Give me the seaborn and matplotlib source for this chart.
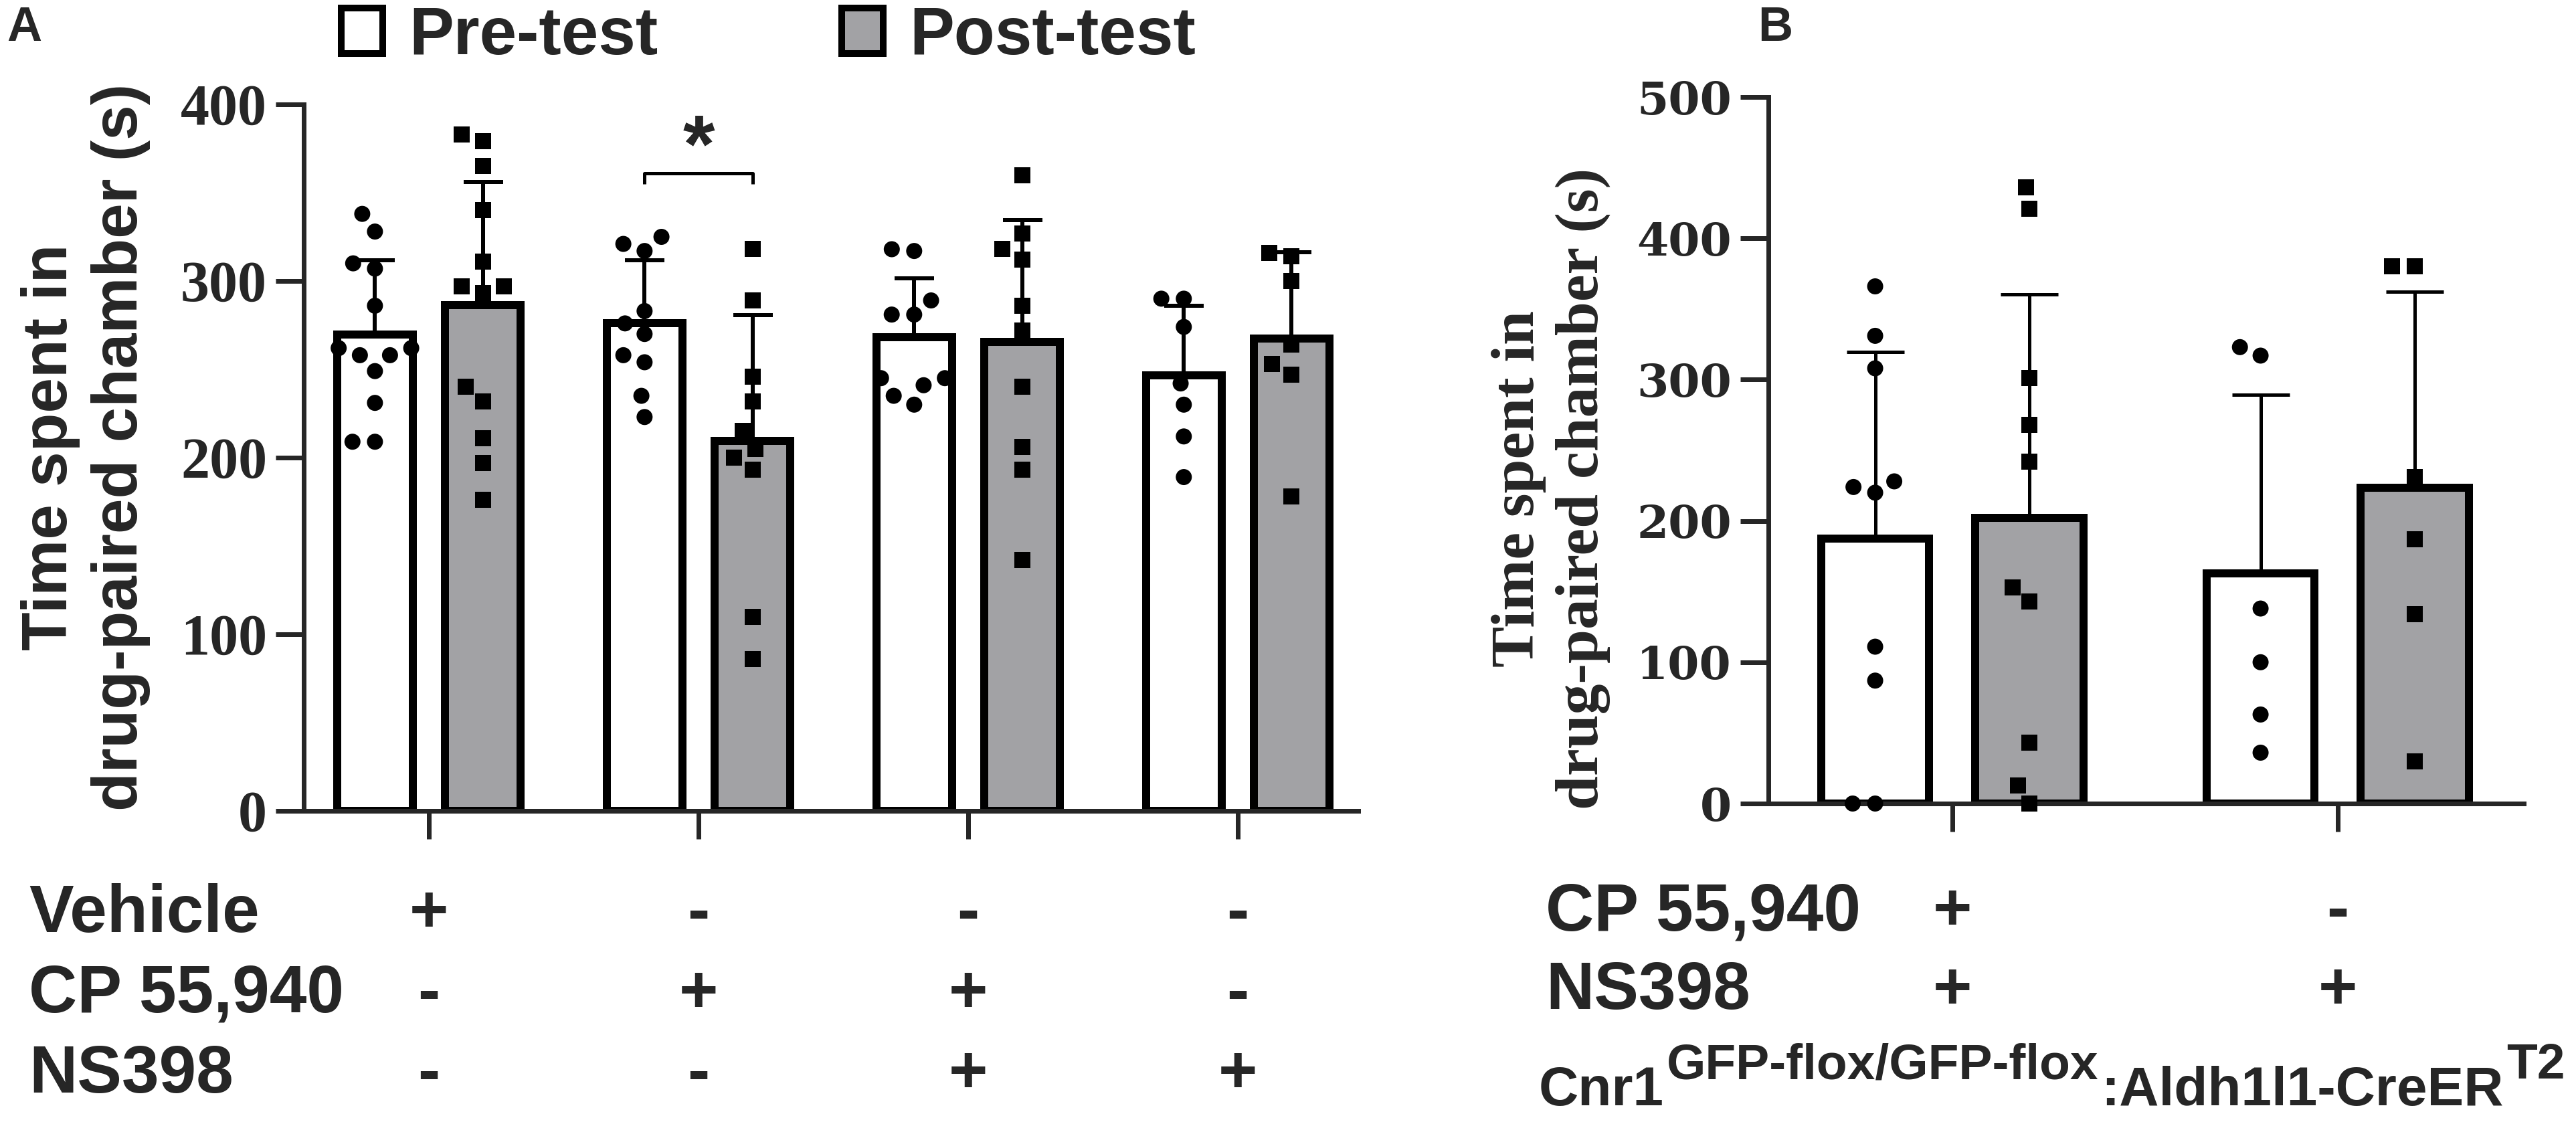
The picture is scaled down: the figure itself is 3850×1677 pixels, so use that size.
import numpy as np
import pandas as pd
import matplotlib
matplotlib.use("Agg")
import matplotlib.pyplot as plt
import seaborn as sns
from matplotlib.patches import Patch
from matplotlib import transforms

# ---------------- data (time in drug-paired chamber, s) ----------------
phases = ["Pre-test", "Post-test"]

# Panel A
groups_a = ["Vehicle", "CP 55,940", "CP 55,940 + NS398", "NS398"]
vehicle_pre = [338, 328, 310, 307, 286, 262, 262, 258, 258, 249, 231, 209, 209]
vehicle_post = [383, 379, 365, 340, 311, 297, 297, 293, 240, 232, 211, 197, 176]
cp_pre = [325, 321, 317, 283, 276, 270, 258, 254, 235, 223]
cp_post = [318, 289, 246, 232, 215, 205, 200, 193, 110, 86]
cpns_pre = [318, 317, 289, 281, 281, 245, 245, 241, 235, 230]
cpns_post = [360, 327, 318, 312, 286, 272, 240, 206, 193, 142]
ns_pre = [290, 290, 274, 242, 230, 212, 189]
ns_post = [316, 314, 300, 264, 253, 247, 178]

# Panel B (Cnr1 GFP-flox/GFP-flox : Aldh1l1-CreER T2 mice)
groups_b = ["CP 55,940 + NS398", "NS398"]
b_cpns_pre = [366, 331, 308, 228, 224, 220, 111, 87, 0, 0]
b_cpns_post = [436, 421, 301, 268, 242, 153, 143, 43, 13, 0]
b_ns_pre = [323, 317, 138, 100, 63, 36]
b_ns_post = [380, 380, 231, 187, 134, 30]

# treatment tables under the axes
rows_a = ["Vehicle", "CP 55,940", "NS398"]
signs_a = [["+", "-", "-", "-"], ["-", "+", "+", "-"], ["-", "-", "+", "+"]]
rows_b = ["CP 55,940", "NS398"]
signs_b = [["+", "-"], ["+", "+"]]

yticks_a = [0, 100, 200, 300, 400]
yticks_b = [0, 100, 200, 300, 400, 500]


def long_df(groups, pre_lists, post_lists):
    rows = []
    for g, pre, post in zip(groups, pre_lists, post_lists):
        rows += [(g, "Pre-test", v) for v in pre]
        rows += [(g, "Post-test", v) for v in post]
    return pd.DataFrame(rows, columns=["group", "phase", "time"])


df_a = long_df(groups_a, [vehicle_pre, cp_pre, cpns_pre, ns_pre],
               [vehicle_post, cp_post, cpns_post, ns_post])
df_b = long_df(groups_b, [b_cpns_pre, b_ns_pre], [b_cpns_post, b_ns_post])

# ---------------- style ----------------
sns.set_style("ticks")
plt.rcParams["font.family"] = ["Liberation Sans", "DejaVu Sans"]
plt.rcParams["font.weight"] = "bold"

W, H, DPI = 3850, 1677, 100
PT = 72 / DPI  # points per pixel
GREY = "#a2a2a5"
SANS = "Liberation Sans"
SERIF = "Liberation Serif"


def fx(px):
    return px / W


def fy(py):
    return 1 - py / H


fig = plt.figure(figsize=(W / DPI, H / DPI), dpi=DPI)
fig.patch.set_facecolor("white")
axA = fig.add_axes([fx(454), fy(1212), (2030 - 454) / W, (1212 - 156) / H])
axB = fig.add_axes([fx(2643), fy(1201), (3772 - 2643) / W, (1201 - 145) / H])


def draw_panel(ax, df, groups, bar_lw, err_lw, cap_px, xlim, yticks,
               tick_font, tick_fs):
    sns.barplot(data=df, x="group", y="time", hue="phase", order=groups,
                hue_order=phases, palette={"Pre-test": "white", "Post-test": GREY},
                saturation=1, errorbar=None, width=0.8, gap=0.3,
                edgecolor="black", linewidth=bar_lw * PT, legend=False, ax=ax,
                zorder=2)
    stats = df.groupby(["phase", "group"])["time"].agg(["mean", "std"])
    centers = {}
    for container, ph in zip(ax.containers, phases):
        for bar in container:
            xc = bar.get_x() + bar.get_width() / 2
            g = groups[int(round(xc))]
            centers[(ph, g)] = xc
            sd = stats.loc[(ph, g), "std"]
            ax.errorbar(xc, bar.get_height(), yerr=[[0], [sd]], fmt="none",
                        ecolor="black", elinewidth=err_lw * PT,
                        capsize=cap_px / 2 * PT, capthick=err_lw * PT,
                        zorder=3, clip_on=False)
    for ph, mk in zip(phases, ["o", "s"]):
        sns.swarmplot(data=df[df["phase"] == ph], x="group", y="time",
                      hue="phase", order=groups, hue_order=phases,
                      palette={p: "black" for p in phases}, dodge=True,
                      marker=mk, size=24 * PT, linewidth=8 * PT,
                      edgecolor="none", legend=False, ax=ax, zorder=4,
                      clip_on=False)
    ax.set_xlim(*xlim)
    ax.set_ylim(yticks[0], yticks[-1])
    ax.set_xticks(range(len(groups)))
    ax.set_yticks(yticks)
    ax.set_yticklabels([str(t) for t in yticks], fontfamily=tick_font,
                       fontweight="bold", fontsize=tick_fs)
    ax.set_xlabel("")
    ax.set_ylabel("")
    sns.despine(ax=ax)
    for s in ("left", "bottom"):
        ax.spines[s].set_linewidth(7 * PT)
        ax.spines[s].set_capstyle("projecting")
    ax.tick_params(axis="x", length=42 * PT, width=7 * PT, labelbottom=False)
    ax.tick_params(axis="y", length=42 * PT, width=7 * PT, pad=13 * PT)
    ax.set_facecolor("none")
    return centers


cA = draw_panel(axA, df_a, groups_a, 12, 6, 59, (-0.464, 3.447), yticks_a,
                SERIF, 62)
cB = draw_panel(axB, df_b, groups_b, 12, 5, 86, (-0.477, 1.483), yticks_b,
                "DejaVu Serif", 49)

# significance bracket (CP 55,940 pre vs post)
x1, x2 = cA[("Pre-test", "CP 55,940")], cA[("Post-test", "CP 55,940")]
axA.plot([x1, x1, x2, x2], [355, 361, 361, 355], color="black",
         lw=5 * PT, clip_on=False, solid_capstyle="butt")
axA.text((x1 + x2) / 2, 362, "*", ha="center", va="baseline", fontsize=88,
         fontweight="bold", fontfamily=SANS)

# y-axis labels
fig.text(fx(128), fy(668), "Time spent in\ndrug-paired chamber (s)", rotation=90,
         ha="center", va="center", multialignment="center", fontsize=68,
         fontweight="bold", fontfamily=SANS, linespacing=1.22)
fig.text(fx(2318), fy(730), "Time spent in\ndrug-paired chamber (s)", rotation=90,
         ha="center", va="center", multialignment="center", fontsize=66,
         fontweight="bold", fontfamily=SERIF, linespacing=1.22)

# panel letters
fig.text(fx(10), fy(8), "A", ha="left", va="top", fontsize=52, fontweight="bold")
fig.text(fx(2627), fy(8), "B", ha="left", va="top", fontsize=52, fontweight="bold")

# legend
handles = [Patch(facecolor="white", edgecolor="black", linewidth=10 * PT),
           Patch(facecolor=GREY, edgecolor="black", linewidth=10 * PT)]
fig.legend(handles, phases, loc="center left", bbox_to_anchor=(fx(510), fy(55)),
           ncol=2, frameon=False, prop={"family": SANS, "weight": "bold", "size": 72},
           handlelength=0.62, handleheight=0.68, handletextpad=0.39,
           columnspacing=2.75, borderpad=0, borderaxespad=0)

# treatment tables
def table(ax, rows, signs, x_label_px, baselines_px):
    tr = transforms.blended_transform_factory(ax.transData, fig.transFigure)
    for name, sg, base in zip(rows, signs, baselines_px):
        fig.text(fx(x_label_px), fy(base), name, ha="left", va="baseline",
                 fontsize=72, fontweight="bold", fontfamily=SANS)
        for i, s in enumerate(sg):
            ax.text(i, fy(base), s, transform=tr, ha="center", va="baseline",
                    fontsize=72, fontweight="bold", fontfamily=SANS)


table(axA, rows_a, signs_a, 43, [1393, 1513, 1633])
table(axB, rows_b, signs_b, 2310, [1390, 1508])

# genotype label with superscripts
renderer = fig.canvas.get_renderer()
pieces = [("Cnr1", 59, 0), ("GFP-flox/GFP-flox", 54, 40),
          (":Aldh1l1-CreER", 59, 0), ("T2", 54, 40)]
xpos = 2300
for txt, size, rise in pieces:
    t = fig.text(fx(xpos), fy(1652 - rise), txt, ha="left", va="baseline",
                 fontsize=size, fontweight="bold", fontfamily=SANS)
    bb = t.get_window_extent(renderer)
    xpos = bb.x1 + 4

fig.savefig("out.png", dpi=DPI, facecolor="white")
